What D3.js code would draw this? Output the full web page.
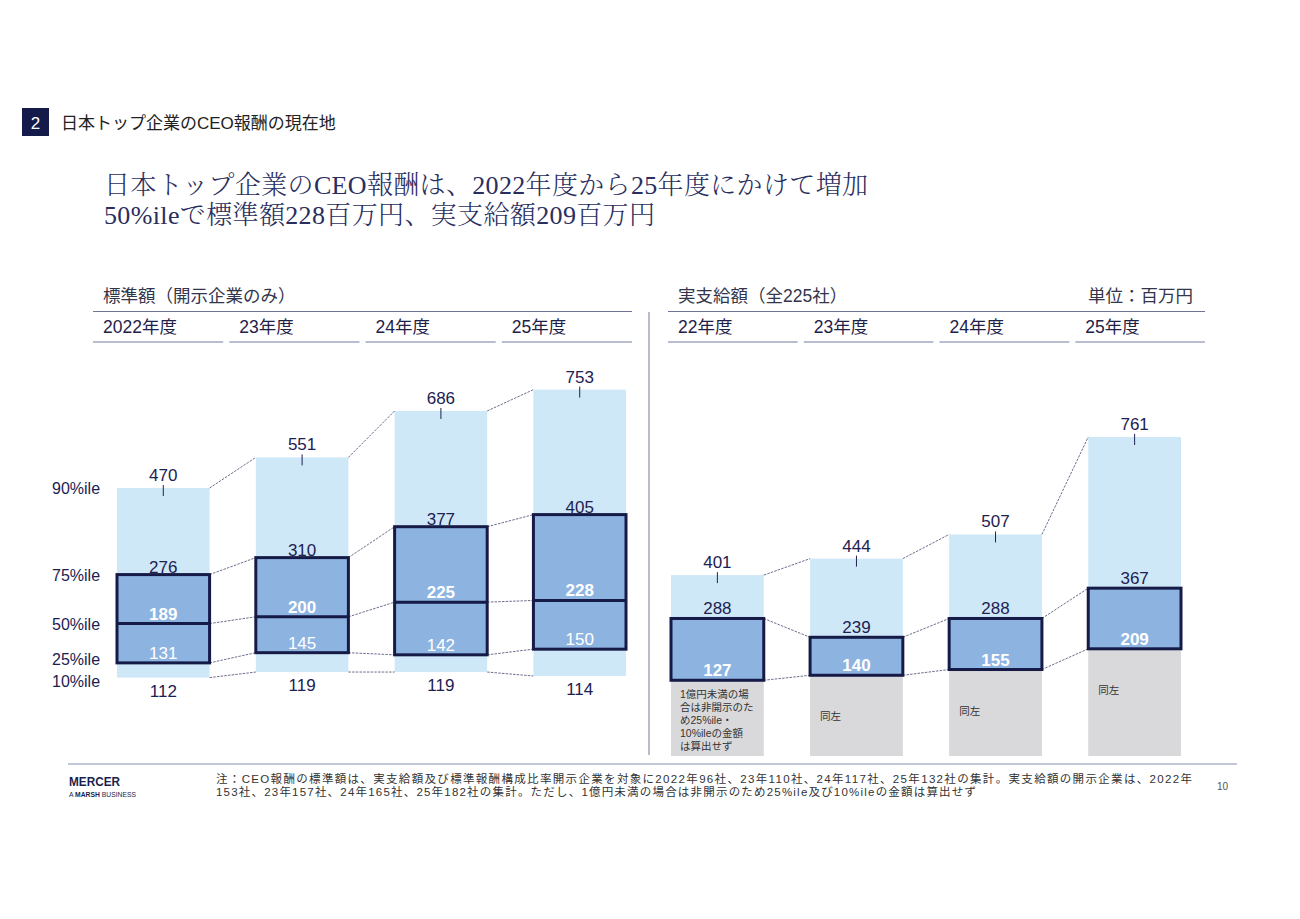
<!DOCTYPE html>
<html>
<head>
<meta charset="utf-8">
<script src="https://cdnjs.cloudflare.com/ajax/libs/d3/7.8.5/d3.min.js"></script>
<style>
body { margin: 0; background: #fff; }
text { font-family: "Liberation Sans", "Noto Sans CJK JP", sans-serif; }
text.serif { font-family: "Liberation Serif", "Noto Serif CJK JP", "Noto Sans CJK JP", serif; }
</style>
</head>
<body>
<script>
// 標準額（開示企業のみ）
var stdYears = ["2022年度", "23年度", "24年度", "25年度"];
var stdP90 = [470, 551, 686, 753];
var stdP75 = [276, 310, 377, 405];
var stdP50 = [189, 200, 225, 228];
var stdP25 = [131, 145, 142, 150];
var stdP10 = [112, 119, 119, 114];

// 実支給額（全225社）
var actYears = ["22年度", "23年度", "24年度", "25年度"];
var actP90 = [401, 444, 507, 761];
var actP75 = [288, 239, 288, 367];
var actP50 = [127, 140, 155, 209];

var pctLabels = ["90%ile", "75%ile", "50%ile", "25%ile", "10%ile"];
var greyNote = ["1億円未満の場", "合は非開示のた", "め25%ile・", "10%ileの金額", "は算出せず"];
var sameNote = "同左";

var navy = "#1d2152";
var boxStroke = "#161a46";
var lightBlue = "#cfe8f8";
var midBlue = "#8db4e1";
var grey = "#d9d9db";
var connColor = "#5a5e80";

var width = 1300, height = 919;

var svg = d3.select("body").append("svg")
    .attr("width", width)
    .attr("height", height);

svg.append("rect").attr("width", width).attr("height", height).attr("fill", "#fff");

//////// page header
svg.append("rect")
    .attr("x", 22).attr("y", 108)
    .attr("width", 27).attr("height", 28)
    .attr("fill", "#141a4a");
svg.append("text")
    .attr("x", 35.5).attr("y", 128.5)
    .attr("text-anchor", "middle")
    .attr("font-size", "17px")
    .attr("fill", "#fff")
    .text("2");
svg.append("text")
    .attr("x", 61).attr("y", 129)
    .attr("font-size", "17px")
    .attr("fill", "#222")
    .text("日本トップ企業のCEO報酬の現在地");

// main title
svg.append("text")
    .attr("class", "serif")
    .attr("x", 104).attr("y", 194)
    .attr("font-size", "26px")
    .attr("font-weight", 300)
    .attr("fill", "#2a2e5e")
    .attr("textLength", 764).attr("lengthAdjust", "spacing")
    .text("日本トップ企業のCEO報酬は、2022年度から25年度にかけて増加");
svg.append("text")
    .attr("class", "serif")
    .attr("x", 104).attr("y", 224)
    .attr("font-size", "26px")
    .attr("font-weight", 300)
    .attr("fill", "#2a2e5e")
    .attr("textLength", 551).attr("lengthAdjust", "spacing")
    .text("50%ileで標準額228百万円、実支給額209百万円");

//////// section headers
svg.append("text")
    .attr("x", 103).attr("y", 302)
    .attr("font-size", "17.5px").attr("fill", "#33354a")
    .text("標準額（開示企業のみ）");
svg.append("text")
    .attr("x", 678).attr("y", 302)
    .attr("font-size", "17.5px").attr("fill", "#33354a")
    .text("実支給額（全225社）");
svg.append("text")
    .attr("x", 1193).attr("y", 302)
    .attr("text-anchor", "end")
    .attr("font-size", "17.5px").attr("fill", "#33354a")
    .text("単位：百万円");

// header rules
svg.append("line").attr("x1", 93).attr("x2", 632).attr("y1", 311.5).attr("y2", 311.5)
    .attr("stroke", "#6e7397").attr("stroke-width", 1.2);
svg.append("line").attr("x1", 668).attr("x2", 1205).attr("y1", 311.5).attr("y2", 311.5)
    .attr("stroke", "#6e7397").attr("stroke-width", 1.2);
svg.append("line").attr("x1", 649).attr("x2", 649).attr("y1", 312).attr("y2", 755)
    .attr("stroke", "#8a8fb0").attr("stroke-width", 1.2);

function drawYearHeader(years, range) {
    var hx = d3.scaleBand().domain(years).range(range).paddingInner(0.045);
    var g = svg.append("g");
    g.selectAll("line.col").data(years).enter().append("line")
        .attr("x1", function(d) { return hx(d); })
        .attr("x2", function(d) { return hx(d) + hx.bandwidth(); })
        .attr("y1", 342).attr("y2", 342)
        .attr("stroke", "#b9bdd2").attr("stroke-width", 2);
    g.selectAll("text").data(years).enter().append("text")
        .attr("x", function(d) { return hx(d) + 10; })
        .attr("y", 333)
        .attr("font-size", "17.5px")
        .attr("fill", "#1f2248")
        .text(function(d) { return d; });
}
drawYearHeader(stdYears, [93, 632]);
drawYearHeader(actYears, [668, 1205]);

//////// scales
var xStd = d3.scaleBand().domain(stdYears).range([117, 626]).paddingInner(0.333);
var yStd = d3.scaleSqrt().domain([0, 900]).range([858.4, 345.9]);

var xAct = d3.scaleBand().domain(actYears).range([671, 1181]).paddingInner(0.333);
var yAct = d3.scaleLinear().domain([0, 800]).range([729, 422]);

var greyBottom = 756;

function connectors(g, x, y, years, vals) {
    for (var i = 0; i < years.length - 1; i++) {
        g.append("line")
            .attr("x1", x(years[i]) + x.bandwidth())
            .attr("y1", y(vals[i]))
            .attr("x2", x(years[i + 1]))
            .attr("y2", y(vals[i + 1]))
            .attr("stroke", connColor)
            .attr("stroke-width", 0.9)
            .attr("stroke-dasharray", "2.5,1.2");
    }
}

function numLabel(g, x, y, txt, color, bold) {
    g.append("text")
        .attr("x", x).attr("y", y)
        .attr("text-anchor", "middle")
        .attr("font-size", "17px")
        .attr("font-weight", bold ? "bold" : "normal")
        .attr("fill", color)
        .text(txt);
}

//////// left panel: 標準額
var gl = svg.append("g");
var bw = xStd.bandwidth();

gl.selectAll("rect.range").data(stdYears).enter().append("rect")
    .attr("x", function(d) { return xStd(d); })
    .attr("y", function(d, i) { return yStd(stdP90[i]); })
    .attr("width", bw)
    .attr("height", function(d, i) { return yStd(stdP10[i]) - yStd(stdP90[i]); })
    .attr("fill", lightBlue);

[stdP90, stdP75, stdP50, stdP25, stdP10].forEach(function(vals) {
    connectors(gl, xStd, yStd, stdYears, vals);
});

gl.selectAll("rect.box").data(stdYears).enter().append("rect")
    .attr("x", function(d) { return xStd(d); })
    .attr("y", function(d, i) { return yStd(stdP75[i]); })
    .attr("width", bw)
    .attr("height", function(d, i) { return yStd(stdP25[i]) - yStd(stdP75[i]); })
    .attr("fill", midBlue)
    .attr("stroke", boxStroke)
    .attr("stroke-width", 3);

gl.selectAll("line.median").data(stdYears).enter().append("line")
    .attr("x1", function(d) { return xStd(d); })
    .attr("x2", function(d) { return xStd(d) + bw; })
    .attr("y1", function(d, i) { return yStd(stdP50[i]); })
    .attr("y2", function(d, i) { return yStd(stdP50[i]); })
    .attr("stroke", boxStroke)
    .attr("stroke-width", 3);

stdYears.forEach(function(d, i) {
    var cx = xStd(d) + bw / 2;
    gl.append("line")
        .attr("x1", cx).attr("x2", cx)
        .attr("y1", yStd(stdP90[i]) - 3).attr("y2", yStd(stdP90[i]) + 8)
        .attr("stroke", navy).attr("stroke-width", 1);
    numLabel(gl, cx, yStd(stdP90[i]) - 7, stdP90[i], navy, false);
    numLabel(gl, cx, yStd(stdP75[i]) - 2, stdP75[i], navy, false);
    numLabel(gl, cx, yStd(stdP50[i]) - 4, stdP50[i], "#fff", true);
    numLabel(gl, cx, yStd(stdP25[i]) - 4, stdP25[i], "#fff", false);
    numLabel(gl, cx, yStd(stdP10[i]) + 19, stdP10[i], navy, false);
});

// percentile labels, aligned to the first column
var firstCol = [stdP90[0], stdP75[0], stdP50[0], stdP25[0], stdP10[0]];
gl.selectAll("text.pct").data(pctLabels).enter().append("text")
    .attr("x", 52)
    .attr("y", function(d, i) { return yStd(firstCol[i]) + (i === 3 ? 2 : i === 4 ? 9 : 6); })
    .attr("font-size", "16px")
    .attr("fill", navy)
    .text(function(d) { return d; });

//////// right panel: 実支給額
var gr = svg.append("g");
var bw2 = xAct.bandwidth();

gr.selectAll("rect.range").data(actYears).enter().append("rect")
    .attr("x", function(d) { return xAct(d); })
    .attr("y", function(d, i) { return yAct(actP90[i]); })
    .attr("width", bw2)
    .attr("height", function(d, i) { return yAct(actP75[i]) - yAct(actP90[i]); })
    .attr("fill", lightBlue);

gr.selectAll("rect.na").data(actYears).enter().append("rect")
    .attr("x", function(d) { return xAct(d); })
    .attr("y", function(d, i) { return yAct(actP50[i]); })
    .attr("width", bw2)
    .attr("height", function(d, i) { return greyBottom - yAct(actP50[i]); })
    .attr("fill", grey);

[actP90, actP75, actP50].forEach(function(vals) {
    connectors(gr, xAct, yAct, actYears, vals);
});

gr.selectAll("rect.box").data(actYears).enter().append("rect")
    .attr("x", function(d) { return xAct(d); })
    .attr("y", function(d, i) { return yAct(actP75[i]); })
    .attr("width", bw2)
    .attr("height", function(d, i) { return yAct(actP50[i]) - yAct(actP75[i]); })
    .attr("fill", midBlue)
    .attr("stroke", boxStroke)
    .attr("stroke-width", 3);

actYears.forEach(function(d, i) {
    var cx = xAct(d) + bw2 / 2;
    gr.append("line")
        .attr("x1", cx).attr("x2", cx)
        .attr("y1", yAct(actP90[i]) - 3).attr("y2", yAct(actP90[i]) + 8)
        .attr("stroke", navy).attr("stroke-width", 1);
    numLabel(gr, cx, yAct(actP90[i]) - 7, actP90[i], navy, false);
    numLabel(gr, cx, yAct(actP75[i]) - 4, actP75[i], navy, false);
    numLabel(gr, cx, yAct(actP50[i]) - 4, actP50[i], "#fff", true);

    if (i === 0) {
        greyNote.forEach(function(line, j) {
            gr.append("text")
                .attr("x", xAct(d) + 9)
                .attr("y", yAct(actP50[i]) + 18 + j * 13)
                .attr("font-size", "10.5px")
                .attr("fill", "#333")
                .text(line);
        });
    } else {
        gr.append("text")
            .attr("x", xAct(d) + 10)
            .attr("y", yAct(actP50[i]) + 45)
            .attr("font-size", "10.5px")
            .attr("fill", "#333")
            .text(sameNote);
    }
});

//////// footer
svg.append("line").attr("x1", 68).attr("x2", 1237).attr("y1", 764).attr("y2", 764)
    .attr("stroke", "#8a8fb0").attr("stroke-width", 1.2);

svg.append("text")
    .attr("x", 69).attr("y", 786)
    .attr("font-size", "12px").attr("font-weight", "bold")
    .attr("fill", "#1a1f4d")
    .attr("textLength", 51).attr("lengthAdjust", "spacingAndGlyphs")
    .text("MERCER");
var sub = svg.append("text")
    .attr("x", 69).attr("y", 796.5)
    .attr("font-size", "7px")
    .attr("fill", "#1a1f4d")
    .attr("textLength", 67).attr("lengthAdjust", "spacingAndGlyphs");
sub.append("tspan").text("A ");
sub.append("tspan").attr("font-weight", "bold").text("MARSH");
sub.append("tspan").text(" BUSINESS");

svg.append("text")
    .attr("x", 216).attr("y", 783)
    .attr("font-size", "11.5px").attr("fill", "#333")
    .attr("textLength", 976).attr("lengthAdjust", "spacing")
    .text("注：CEO報酬の標準額は、実支給額及び標準報酬構成比率開示企業を対象に2022年96社、23年110社、24年117社、25年132社の集計。実支給額の開示企業は、2022年");
svg.append("text")
    .attr("x", 216).attr("y", 795.5)
    .attr("font-size", "11.5px").attr("fill", "#333")
    .attr("textLength", 760).attr("lengthAdjust", "spacing")
    .text("153社、23年157社、24年165社、25年182社の集計。ただし、1億円未満の場合は非開示のため25%ile及び10%ileの金額は算出せず");

svg.append("text")
    .attr("x", 1228).attr("y", 790)
    .attr("text-anchor", "end")
    .attr("font-size", "10px").attr("fill", "#555")
    .text("10");
</script>
</body>
</html>
